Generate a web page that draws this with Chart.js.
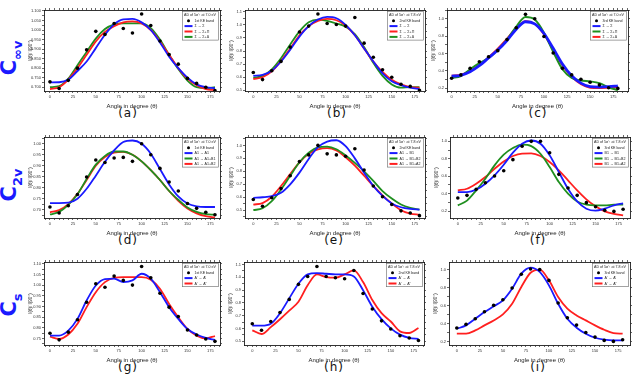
<!DOCTYPE html>
<html>
<head>
<meta charset="utf-8">
<script src="https://cdn.jsdelivr.net/npm/chart.js@4.4.1/dist/chart.umd.min.js"></script>
<style>
html,body{margin:0;padding:0;background:#fff;}
body{width:641px;height:374px;position:relative;overflow:hidden;}
canvas{position:absolute;}
.rowlab{position:absolute;left:11px;color:#1a1aff;font:bold 21px "DejaVu Sans",sans-serif;white-space:nowrap;transform:translate(-50%,-50%) rotate(-90deg);}
.rowlab sub{font-size:13px;}
.plab{position:absolute;font:12px "DejaVu Sans",sans-serif;color:#111;transform:translate(-50%,-50%);letter-spacing:1px;}
</style>
</head>
<body>
<div class="rowlab" style="top:58px">C<sub>∞v</sub></div>
<div class="rowlab" style="top:185px">C<sub>2v</sub></div>
<div class="rowlab" style="top:305px">C<sub>s</sub></div>
<div class="plab" style="left:128px;top:113px">(a)</div>
<div class="plab" style="left:337px;top:113px">(b)</div>
<div class="plab" style="left:538px;top:113px">(c)</div>
<div class="plab" style="left:128px;top:240px">(d)</div>
<div class="plab" style="left:334px;top:240px">(e)</div>
<div class="plab" style="left:538px;top:240px">(f)</div>
<div class="plab" style="left:128px;top:367px">(g)</div>
<div class="plab" style="left:334px;top:367px">(h)</div>
<div class="plab" style="left:538px;top:367px">(i)</div>
<script>
// angles where the data and curves are sampled
var ANGLES = [0,10,20,30,40,50,60,70,80,90,100,110,120,130,140,150,160,170,180];
var X_TICKS = [0,25,50,75,100,125,150,175];

// (a) C∞v, 1st KE band
var aBand  = [0.728,0.693,0.736,0.800,0.896,0.993,0.977,1.034,1.008,0.984,1.084,1.024,0.942,0.871,0.821,0.746,0.720,0.700,0.682];
var aSS    = [0.725,0.726,0.740,0.785,0.835,0.905,0.975,1.030,1.056,1.058,1.040,1.000,0.935,0.860,0.800,0.750,0.715,0.700,0.695];
var aSSP   = [0.690,0.700,0.740,0.800,0.870,0.940,0.990,1.020,1.040,1.045,1.035,1.000,0.940,0.870,0.800,0.745,0.710,0.690,0.685];
var aSSD   = [0.700,0.705,0.745,0.815,0.885,0.955,1.005,1.030,1.035,1.035,1.035,1.010,0.950,0.870,0.795,0.735,0.700,0.695,0.700];
var aYTicks = [0.70,0.75,0.80,0.85,0.90,0.95,1.00,1.05,1.10];

// (b) C∞v, 2nd KE band
var bBand  = [0.636,0.582,0.649,0.721,0.830,0.945,0.990,1.082,1.010,1.002,0.990,1.056,0.860,0.752,0.657,0.600,0.546,0.530,0.500];
var bSS    = [0.610,0.618,0.650,0.720,0.810,0.910,0.990,1.040,1.060,1.050,1.000,0.920,0.820,0.720,0.630,0.570,0.540,0.520,0.510];
var bSSP   = [0.585,0.600,0.645,0.725,0.820,0.920,0.990,1.030,1.045,1.035,0.995,0.920,0.820,0.720,0.640,0.580,0.545,0.525,0.520];
var bSSD   = [0.595,0.610,0.660,0.745,0.850,0.950,1.020,1.040,1.030,1.010,0.985,0.930,0.830,0.710,0.610,0.545,0.520,0.525,0.525];
var bYTicks = [0.5,0.6,0.7,0.8,0.9,1.0,1.1];

// (c) C∞v, 3rd KE band
var cBand  = [0.316,0.355,0.430,0.505,0.563,0.633,0.760,0.896,1.050,1.000,0.795,0.606,0.430,0.355,0.305,0.270,0.240,0.208,0.200];
var cSS    = [0.340,0.350,0.390,0.460,0.550,0.640,0.750,0.880,0.965,0.940,0.830,0.660,0.480,0.345,0.260,0.220,0.215,0.220,0.230];
var cSSP   = [0.320,0.340,0.420,0.490,0.550,0.640,0.760,0.910,1.020,0.990,0.840,0.620,0.420,0.320,0.290,0.280,0.260,0.210,0.180];
var cSSD   = [0.350,0.360,0.400,0.470,0.560,0.660,0.775,0.895,0.975,0.940,0.815,0.640,0.460,0.330,0.245,0.205,0.200,0.205,0.210];
var cYTicks = [0.2,0.4,0.6,0.8,1.0];

// (d) C2v, 1st KE band
var dBand  = [0.712,0.685,0.718,0.769,0.849,0.926,0.915,0.935,0.938,0.920,1.000,0.950,0.888,0.826,0.785,0.728,0.706,0.688,0.677];
var dAA    = [0.730,0.730,0.732,0.750,0.795,0.855,0.918,0.970,1.008,1.015,1.000,0.955,0.885,0.815,0.760,0.728,0.715,0.712,0.712];
var dAAB1  = [0.678,0.690,0.722,0.770,0.840,0.905,0.945,0.965,0.965,0.950,0.920,0.880,0.835,0.785,0.745,0.710,0.690,0.680,0.677];
var dAAB2  = [0.688,0.698,0.725,0.772,0.835,0.900,0.940,0.960,0.963,0.950,0.920,0.880,0.835,0.785,0.740,0.705,0.683,0.670,0.665];
var dYTicks = [0.70,0.75,0.80,0.85,0.90,0.95,1.00];

// (e) C2v, 2nd KE band
var eBand  = [0.583,0.531,0.596,0.667,0.766,0.875,0.927,1.000,0.935,0.927,0.917,0.974,0.810,0.687,0.604,0.544,0.495,0.479,0.458];
var eAB    = [0.596,0.600,0.608,0.635,0.700,0.790,0.896,0.987,1.030,1.040,0.995,0.900,0.790,0.687,0.610,0.552,0.523,0.510,0.505];
var eABB   = [0.500,0.515,0.570,0.660,0.766,0.870,0.943,0.985,0.990,0.970,0.922,0.865,0.800,0.727,0.648,0.590,0.544,0.518,0.505];
var eABA   = [0.544,0.555,0.604,0.687,0.780,0.870,0.935,0.969,0.979,0.961,0.909,0.844,0.766,0.687,0.615,0.552,0.500,0.474,0.466];
var eYTicks = [0.5,0.6,0.7,0.8,0.9,1.0];

// (f) C2v, 3rd KE band
var fBand  = [0.349,0.380,0.449,0.525,0.602,0.663,0.790,0.943,1.000,1.000,0.870,0.621,0.464,0.380,0.296,0.250,0.208,0.196,0.220];
var fBB    = [0.418,0.418,0.445,0.514,0.610,0.732,0.870,0.973,1.010,0.973,0.840,0.648,0.456,0.310,0.227,0.204,0.227,0.265,0.288];
var fBBB   = [0.265,0.320,0.437,0.571,0.724,0.847,0.923,0.962,0.946,0.858,0.705,0.533,0.400,0.310,0.273,0.265,0.265,0.273,0.273];
var fBBA   = [0.437,0.456,0.514,0.590,0.686,0.770,0.832,0.860,0.862,0.832,0.763,0.667,0.552,0.437,0.334,0.254,0.196,0.166,0.150];
var fYTicks = [0.2,0.4,0.6,0.8,1.0];

// (g) Cs, 1st KE band
var gBand  = [0.775,0.744,0.780,0.838,0.920,1.006,0.990,1.042,1.022,1.000,1.087,1.034,0.962,0.897,0.853,0.790,0.767,0.748,0.737];
var gAA    = [0.764,0.764,0.787,0.842,0.928,0.998,1.028,1.030,1.014,1.022,1.053,1.030,0.967,0.897,0.842,0.795,0.769,0.753,0.744];
var gAA2   = [0.759,0.748,0.769,0.819,0.897,0.967,1.014,1.034,1.037,1.037,1.037,1.025,0.983,0.912,0.850,0.795,0.764,0.751,0.762];
var gYTicks = [0.75,0.80,0.85,0.90,0.95,1.00,1.05,1.10];

// (h) Cs, 2nd KE band
var hBand  = [0.636,0.585,0.654,0.724,0.827,0.945,1.007,1.085,1.007,0.997,0.989,1.054,0.873,0.752,0.659,0.595,0.543,0.525,0.505];
var hAA    = [0.621,0.621,0.636,0.719,0.835,0.950,1.023,1.033,1.028,1.023,1.023,1.007,0.899,0.770,0.672,0.600,0.551,0.525,0.518];
var hAA2   = [0.585,0.556,0.610,0.672,0.739,0.809,0.938,1.023,1.002,0.997,1.023,1.054,0.963,0.822,0.719,0.654,0.577,0.564,0.603];
var hYTicks = [0.5,0.6,0.7,0.8,0.9,1.0,1.1];

// (i) Cs, 3rd KE band
var iBand  = [0.349,0.390,0.453,0.531,0.602,0.665,0.795,0.948,1.007,1.000,0.880,0.628,0.464,0.382,0.300,0.248,0.211,0.200,0.219];
var iAA    = [0.341,0.379,0.453,0.527,0.591,0.658,0.788,0.955,1.022,0.974,0.825,0.620,0.453,0.353,0.286,0.241,0.219,0.211,0.211];
var iAA2   = [0.286,0.286,0.323,0.379,0.434,0.501,0.620,0.807,0.965,1.000,0.881,0.695,0.565,0.490,0.434,0.379,0.330,0.293,0.286];
var iYTicks = [0.2,0.4,0.6,0.8,1.0];

var BLUE = '#1a1aff', RED = '#ff1f1f', GREEN = '#1f8f1f';

// legend box drawn inside the plot, top right
var legendBox = {
    id: 'legendBox',
    afterDraw: function(chart, args, o){
        var ctx = chart.ctx, a = chart.chartArea, ds = chart.data.datasets;
        var w = o.width || 36, lh = 5.4;
        var h = 6.5 + ds.length * lh + 0.5;
        var x = a.right - w - 1.5, y = a.top + 1.5;
        ctx.save();
        ctx.fillStyle = '#fff'; ctx.fillRect(x, y, w, h);
        ctx.strokeStyle = '#666'; ctx.lineWidth = 0.6; ctx.strokeRect(x, y, w, h);
        ctx.font = '3.6px "Liberation Sans", sans-serif';
        ctx.textBaseline = 'middle';
        ctx.fillStyle = '#222';
        ctx.fillText(o.title, x + 1.5, y + 3.3);
        ds.forEach(function(d, i){
            var yy = y + 9.2 + i * lh;
            if(d.showLine === false){
                ctx.fillStyle = '#000';
                ctx.beginPath(); ctx.arc(x + 6, yy, 1.5, 0, Math.PI * 2); ctx.fill();
            } else {
                ctx.strokeStyle = d.borderColor; ctx.lineWidth = 2;
                ctx.beginPath(); ctx.moveTo(x + 2, yy); ctx.lineTo(x + 10, yy); ctx.stroke();
            }
            ctx.fillStyle = '#222';
            ctx.fillText(d.label, x + 12, yy);
        });
        ctx.restore();
    }
};
Chart.register(legendBox);

function toXY(vals){
    return ANGLES.map(function(a, i){ return {x: a, y: vals[i]}; });
}

// major ticks from the label list plus minor subdivisions
function tickList(majors, n, min, max){
    var step = (majors[1] - majors[0]) / n, out = [], v, k;
    for(k = 1; majors[0] - k * step >= min; k++) out.push(majors[0] - k * step);
    majors.forEach(function(m, i){
        out.push(m);
        var top = (i < majors.length - 1) ? n : 1000;
        for(k = 1; k < top && m + k * step <= max; k++) out.push(m + k * step);
    });
    return out.sort(function(p, q){ return p - q; }).map(function(v){ return {value: v}; });
}

function axis(pos, min, max, majors, n, dec, size, title){
    var ax = {
        type: 'linear', position: pos, min: min, max: max,
        afterBuildTicks: function(s){ s.ticks = tickList(majors, n, min, max); },
        afterFit: function(s){ if(pos === 'left' || pos === 'right') s.width = size; else s.height = size; },
        grid: {drawOnChartArea: false, drawTicks: true, tickLength: 2, color: '#000', lineWidth: 0.6},
        border: {display: true, color: '#000', width: 0.8},
        ticks: {
            autoSkip: false, maxRotation: 0, minRotation: 0, padding: 1,
            color: '#333', font: {size: 4, family: '"Liberation Sans", sans-serif'},
            callback: function(v){ return majors.indexOf(v) >= 0 ? v.toFixed(dec) : ''; }
        }
    };
    if(title){
        ax.title = {display: true, text: title, padding: 0, color: '#222',
            font: {size: pos === 'bottom' ? 6 : 4.5, family: '"Liberation Sans", sans-serif'}};
    }
    if(pos === 'top' || pos === 'right') ax.ticks.display = false;
    return ax;
}

function makePanel(p){
    var box = p.box, PAD = 1, YW = 16, XH = 19, M = 3;
    var W = box[2] - box[0], H = box[3] - box[1];
    var cv = document.createElement('canvas');
    cv.width = PAD + YW + W + M + PAD;
    cv.height = PAD + M + H + XH + PAD;
    cv.style.left = (box[0] - PAD - YW) + 'px';
    cv.style.top = (box[1] - PAD - M) + 'px';
    document.body.appendChild(cv);

    var datasets = [{
        label: p.band, data: toXY(p.points), showLine: false,
        pointRadius: 1.8, pointBackgroundColor: '#000', pointBorderWidth: 0, order: 0
    }];
    p.curves.forEach(function(c){
        datasets.push({
            label: c.label, data: toXY(c.values), showLine: true, pointRadius: 0,
            borderColor: c.color, borderWidth: c.width || 1.8, fill: false,
            cubicInterpolationMode: 'monotone', order: 1
        });
    });

    new Chart(cv, {
        type: 'scatter',
        data: {datasets: datasets},
        options: {
            responsive: false, animation: false, devicePixelRatio: 1,
            layout: {padding: PAD},
            plugins: {legend: {display: false}, tooltip: {enabled: false},
                legendBox: {title: p.title, width: p.legW || 36}},
            scales: {
                x: axis('bottom', p.xr[0], p.xr[1], X_TICKS, 5, 0, XH, 'Angle in degree (θ)'),
                y: axis('left', p.yr[0], p.yr[1], p.yTicks, 2, p.dec, YW, 'I(θ)/ I(90°)'),
                x2: axis('top', p.xr[0], p.xr[1], X_TICKS, 5, 0, M),
                y2: axis('right', p.yr[0], p.yr[1], p.yTicks, 2, p.dec, M)
            }
        }
    });
}

var S = 'Σ → Σ', SP = 'Σ → Σ+Π', SD = 'Σ → Σ+Δ';

makePanel({box: [44,10,220,91], xr: [-6.5,185.5], yr: [0.68,1.105], yTicks: aYTicks, dec: 3,
    title: 'AD of 5σ⁻¹ at 7.0 eV', band: '1st KE band', points: aBand,
    curves: [{label: S, values: aSS, color: BLUE}, {label: SP, values: aSSP, color: RED}, {label: SD, values: aSSD, color: GREEN}]});
makePanel({box: [245,10,425,91], xr: [-9,186], yr: [0.495,1.113], yTicks: bYTicks, dec: 1,
    title: 'AD of 5σ⁻¹ at 7.8 eV', band: '2nd KE band', points: bBand,
    curves: [{label: S, values: bSS, color: BLUE}, {label: SP, values: bSSP, color: RED}, {label: SD, values: bSSD, color: GREEN}]});
makePanel({box: [447,10,628,91], xr: [-5,191], yr: [0.17,1.10], yTicks: cYTicks, dec: 1,
    title: 'AD of 5σ⁻¹ at 7.0 eV', band: '3rd KE band', points: cBand,
    curves: [{label: S, values: cSS, color: BLUE, width: 2.8}, {label: SP, values: cSSP, color: GREEN, width: 2}, {label: SD, values: cSSD, color: RED, width: 1.4}]});

makePanel({box: [44,137,220,218], xr: [-6.5,185.5], yr: [0.662,1.031], yTicks: dYTicks, dec: 2,
    title: 'AD of 5σ⁻¹ at 7.0 eV', band: '1st KE band', points: dBand,
    curves: [{label: 'A1 → A1', values: dAA, color: BLUE}, {label: 'A1 → A1+B1', values: dAAB1, color: GREEN}, {label: 'A1 → A1+B2', values: dAAB2, color: RED}]});
makePanel({box: [245,137,425,218], xr: [-9,186], yr: [0.44,1.065], yTicks: eYTicks, dec: 1,
    title: 'AD of 5σ⁻¹ at 7.8 eV', band: '2nd KE band', points: eBand,
    curves: [{label: 'A1 → B1', values: eAB, color: BLUE}, {label: 'A1 → B1+B2', values: eABB, color: GREEN}, {label: 'A1 → B1+A2', values: eABA, color: RED}]});
makePanel({box: [450,137,630,218], xr: [-8.5,187.5], yr: [0.12,1.05], yTicks: fYTicks, dec: 1,
    title: 'AD of 5σ⁻¹ at 7.8 eV', band: '3rd KE band', points: fBand,
    curves: [{label: 'B1 → B1', values: fBB, color: BLUE}, {label: 'B1 → B1+B2', values: fBBB, color: GREEN}, {label: 'B1 → B1+A2', values: fBBA, color: RED}]});

makePanel({box: [44,262,220,345], xr: [-6.5,185.5], yr: [0.72,1.108], yTicks: gYTicks, dec: 2,
    title: 'AD of 5σ⁻¹ at 7.0 eV', band: '1st KE band', points: gBand,
    curves: [{label: "A' → A'", values: gAA, color: BLUE}, {label: "A' → A''", values: gAA2, color: RED}]});
makePanel({box: [244,262,424,345], xr: [-9,186], yr: [0.47,1.12], yTicks: hYTicks, dec: 1,
    title: 'AD of 5σ⁻¹ at 7.8 eV', band: '2nd KE band', points: hBand,
    curves: [{label: "A' → A'", values: hAA, color: BLUE}, {label: "A' → A''", values: hAA2, color: RED}]});
makePanel({box: [449,262,630,345], xr: [-8.5,188], yr: [0.16,1.085], yTicks: iYTicks, dec: 1,
    title: 'AD of 5σ⁻¹ at 7.8 eV', band: '3rd KE band', points: iBand,
    curves: [{label: "A' → A'", values: iAA, color: BLUE}, {label: "A' → A''", values: iAA2, color: RED}]});
</script>
</body>
</html>
